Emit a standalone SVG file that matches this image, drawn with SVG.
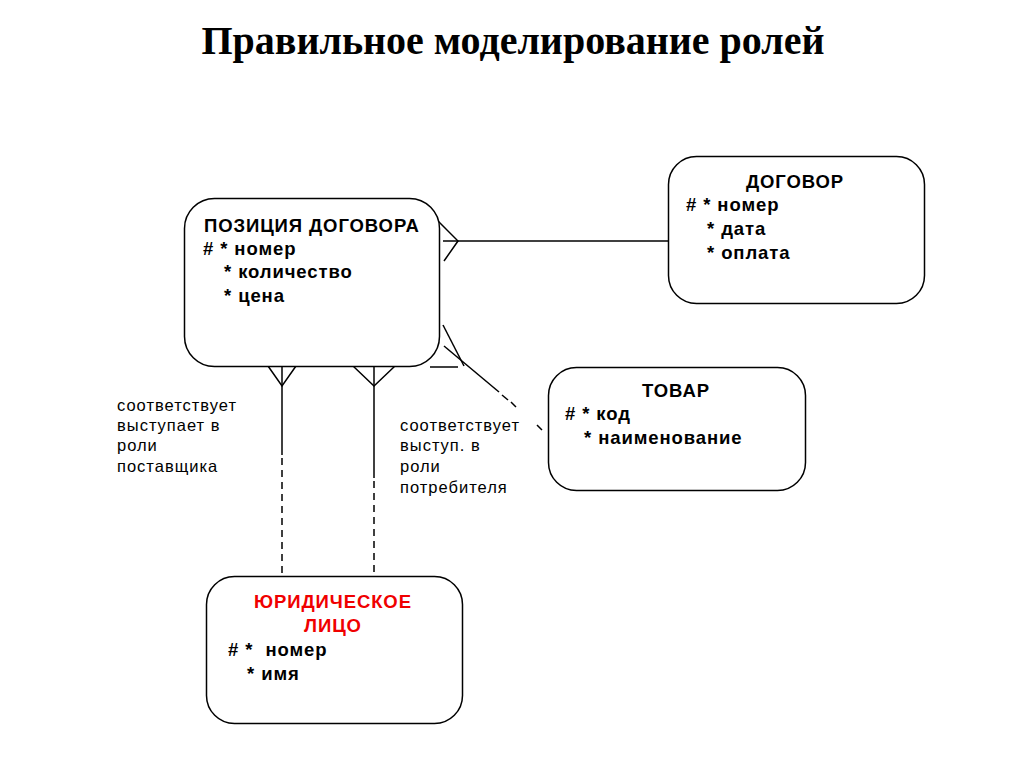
<svg xmlns="http://www.w3.org/2000/svg" width="1024" height="767" viewBox="0 0 1024 767">
<style>
.box{fill:#fff;stroke:#000;stroke-width:1.5}
.ln{stroke:#000;stroke-width:1.5;fill:none}
.dash{stroke:#000;stroke-width:1.5;fill:none;stroke-dasharray:7,5}
.t{font-family:"Liberation Sans",Arial,sans-serif;font-weight:bold;font-size:18.5px;letter-spacing:0.9px;fill:#000}
.red{fill:#f00000}
.lbl{font-family:"Liberation Sans",Arial,sans-serif;font-size:16.5px;letter-spacing:1px;fill:#000}
.title{font-family:"Liberation Serif","Times New Roman",serif;font-weight:bold;font-size:40px;fill:#000}
</style>
<rect width="1024" height="767" fill="#fff"/>
<text class="title" x="513" y="54" text-anchor="middle">Правильное моделирование ролей</text>

<g id="connectors">
  <!-- ПОЗИЦИЯ – ДОГОВОР -->
  <line class="ln" x1="443" y1="241" x2="668" y2="241"/>
  <polyline class="ln" points="437,220 458,241 444,261"/>
  <!-- ПОЗИЦИЯ – ТОВАР -->
  <line class="ln" x1="443" y1="325" x2="464" y2="366"/>
  <line class="ln" x1="430" y1="367" x2="458" y2="367"/>
  <line class="ln" x1="444" y1="346" x2="499" y2="392"/>
  <line class="ln" x1="502" y1="395" x2="508" y2="400"/>
  <line class="ln" x1="511" y1="402" x2="516" y2="407"/>
  <line class="ln" x1="537" y1="425" x2="542" y2="430"/>
  <!-- ПОЗИЦИЯ – ЮР. ЛИЦО (поставщик) -->
  <polyline class="ln" points="268,366 282,386 296,366"/>
  <line class="ln" x1="282" y1="366" x2="282" y2="455"/>
  <line class="dash" x1="282" y1="458" x2="282" y2="576"/>
  <!-- ПОЗИЦИЯ – ЮР. ЛИЦО (потребитель) -->
  <polyline class="ln" points="353,366 374,386 395,366"/>
  <line class="ln" x1="374" y1="366" x2="374" y2="478"/>
  <line class="dash" x1="374" y1="481" x2="374" y2="576"/>
</g>

<g id="pozitsiya">
  <rect class="box" x="184.5" y="198.5" width="255" height="168" rx="30"/>
  <text class="t" x="204" y="232">ПОЗИЦИЯ ДОГОВОРА</text>
  <text class="t" x="203" y="255"># * номер</text>
  <text class="t" x="224" y="278">* количество</text>
  <text class="t" x="224" y="302">* цена</text>
</g>

<g id="dogovor">
  <rect class="box" x="668.5" y="156.5" width="256" height="147" rx="28"/>
  <text class="t" x="795" y="188" text-anchor="middle">ДОГОВОР</text>
  <text class="t" x="686" y="211"># * номер</text>
  <text class="t" x="707" y="235">* дата</text>
  <text class="t" x="707" y="259">* оплата</text>
</g>

<g id="tovar">
  <rect class="box" x="548.5" y="367.5" width="257" height="123" rx="28"/>
  <text class="t" x="676" y="397" text-anchor="middle">ТОВАР</text>
  <text class="t" x="565" y="420"># * код</text>
  <text class="t" x="584" y="444">* наименование</text>
</g>

<g id="yurlitso">
  <rect class="box" x="206.5" y="576.5" width="256" height="147" rx="28"/>
  <text class="t red" x="333" y="608" text-anchor="middle">ЮРИДИЧЕСКОЕ</text>
  <text class="t red" x="333" y="632" text-anchor="middle">ЛИЦО</text>
  <text class="t" x="228" y="656" xml:space="preserve"># *  номер</text>
  <text class="t" x="247" y="680">* имя</text>
</g>

<g id="label-supplier">
  <text class="lbl" x="117" y="411">соответствует</text>
  <text class="lbl" x="117" y="431">выступает в</text>
  <text class="lbl" x="117" y="451">роли</text>
  <text class="lbl" x="117" y="472">поставщика</text>
</g>

<g id="label-consumer">
  <text class="lbl" x="400" y="431">соответствует</text>
  <text class="lbl" x="400" y="451">выступ. в</text>
  <text class="lbl" x="400" y="472">роли</text>
  <text class="lbl" x="400" y="493">потребителя</text>
</g>
</svg>
